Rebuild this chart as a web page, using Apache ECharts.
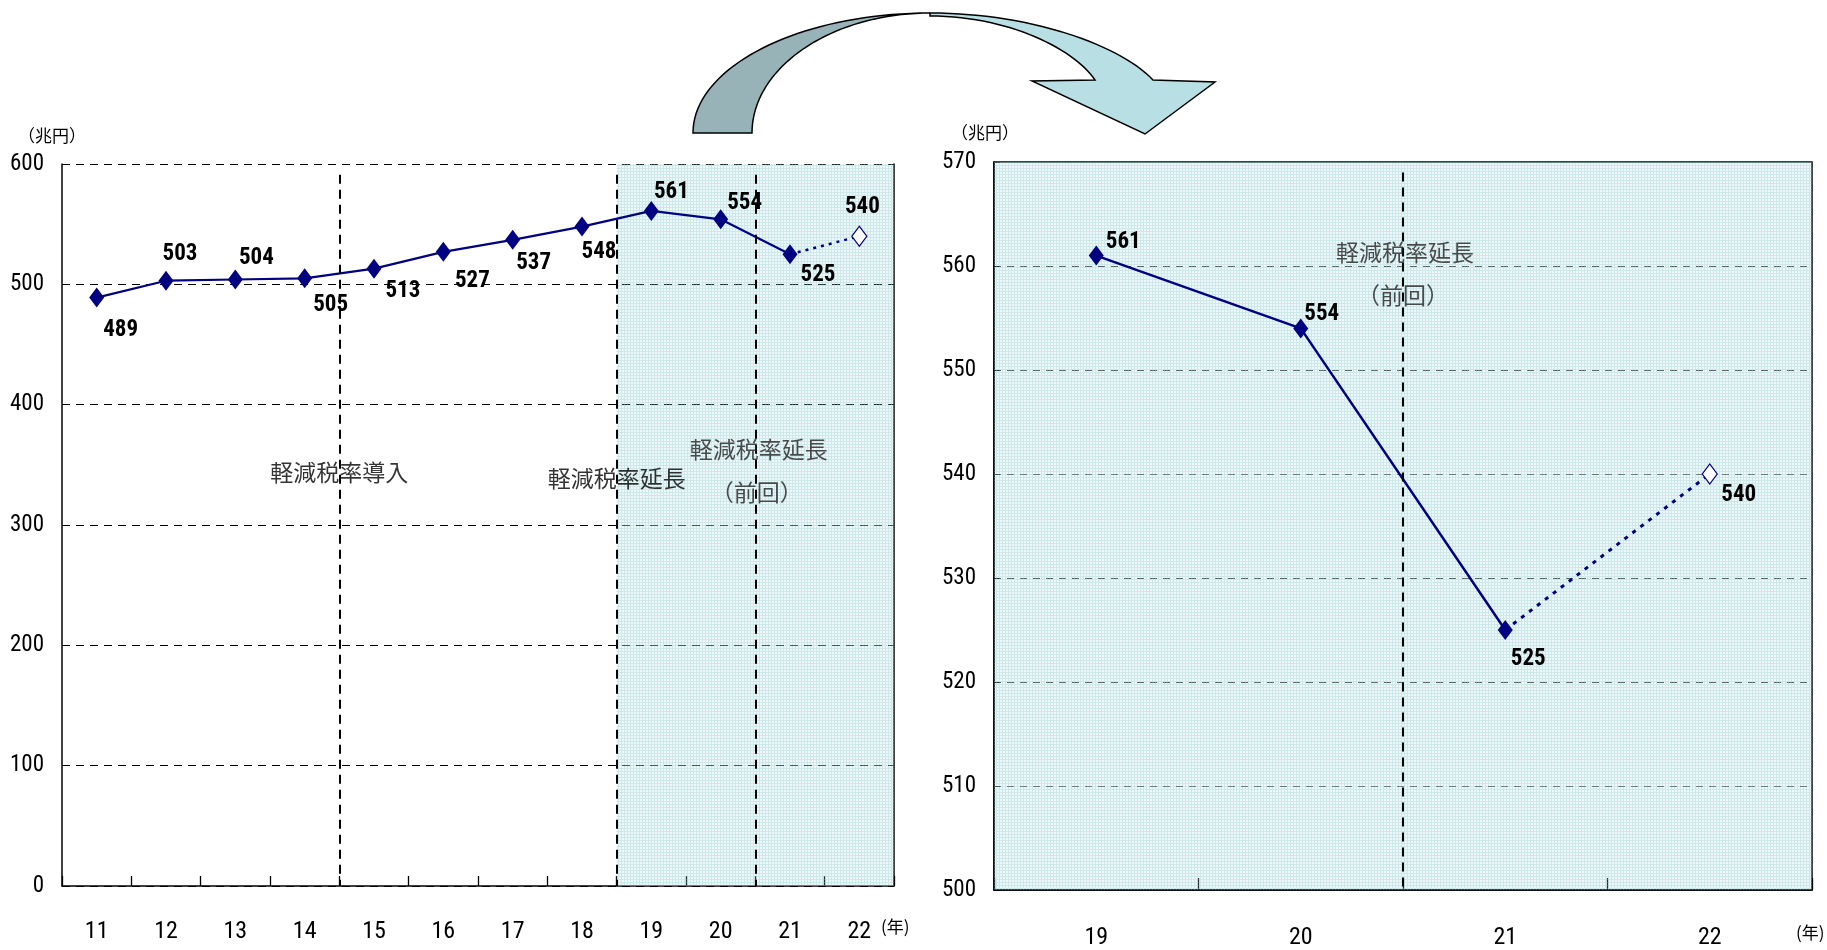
<!DOCTYPE html>
<html><head><meta charset="utf-8">
<script src="https://cdn.jsdelivr.net/npm/echarts@6.0.0/dist/echarts.min.js"></script>
<style>html,body{margin:0;padding:0;background:#fff}#c{width:1827px;height:950px}</style>
</head><body><div id="c"></div>
<script>
// ---- data ----
const years = ['11','12','13','14','15','16','17','18','19','20','21','22'];
const values = [489, 503, 504, 505, 513, 527, 537, 548, 561, 554, 525, 540];
const lastActualIndex = 10;              // 21 is last solid point; 22 is projection (dashed)
const zoomYears = ['19','20','21','22'];
const zoomValues = [561, 554, 525, 540];
const zoomLastActualIndex = 2;
const leftYTicks = {min: 0, max: 600, interval: 100};
const rightYTicks = {min: 500, max: 570, interval: 10};
const leftMarkers = [3.5, 7.5, 9.5];     // boundaries between categories (index space)
const rightMarkers = [1.5];
const leftAnnotations = [
  {text: '軽減税率導入', x: 3.5, y: 344, dark: false},
  {text: '軽減税率延長', x: 7.5, y: 339, dark: false},
  {text: '軽減税率延長', x: 9.55, y: 363, dark: true},
  {text: '（前回）', x: 9.52, y: 327, dark: true}
];
const rightAnnotations = [
  {text: '軽減税率延長', x: 1.51, y: 561.3},
  {text: '（前回）', x: 1.5, y: 557.2}
];
const unitText = '（兆円）';
const yearText = '(年)';

// ---- styles (label offsets, fonts) ----
const leftOffsets = [[24,33],[14,-26],[21,-21],[26,27],[29,23],[29,29],[21,23],[17,26],[20,-19],[24,-16],[28,21],[3,-29]];
const rightOffsets = [[27,-13],[21,-14],[23,29],[29,21]];
const NUM_FONT = "'Liberation Sans Narrow','Roboto Condensed','DejaVu Sans Condensed','Liberation Sans',sans-serif";
const JP_FONT = "'Noto Sans CJK JP','Noto Sans',sans-serif";
const NAVY = '#000080';

function makePattern() {
  const c = document.createElement('canvas'); c.width = 3; c.height = 3;
  const g = c.getContext('2d');
  g.fillStyle = 'rgba(175,220,224,0.2)'; g.fillRect(0,0,3,3);
  g.fillStyle = 'rgba(135,198,204,0.32)'; g.fillRect(0,0,3,1); g.fillRect(0,1,1,2);
  return c;
}
const pattern = {image: makePattern(), repeat: 'repeat'};

// sample a cubic bezier into points (decorative arrow)
function bez(p0, p1, p2, p3, n) {
  const pts = [];
  for (let i = 0; i <= n; i++) {
    const t = i / n, u = 1 - t;
    pts.push([
      u*u*u*p0[0] + 3*u*u*t*p1[0] + 3*u*t*t*p2[0] + t*t*t*p3[0],
      u*u*u*p0[1] + 3*u*u*t*p1[1] + 3*u*t*t*p2[1] + t*t*t*p3[1]
    ]);
  }
  return pts;
}
const rightBand = [].concat(
  bez([930,13],[1030,13],[1120,45],[1153,80],30),
  [[1215,82],[1145,134],[1032,81],[1095,80]],
  bez([1095,80],[1075,50],[1010,16],[930,16],30)
);
const leftBand = [].concat(
  bez([693,133],[693,67],[799,13],[930,13],40),
  bez([930,13],[832,13],[752,67],[752,133],40)
);

function labelCfg(off) {
  return {show: true, position: 'inside', offset: off, formatter: '{c}',
    fontFamily: NUM_FONT, fontSize: 23, fontWeight: 'bold condensed', color: '#000'};
}

const leftSolid = values.map((v, i) => i <= lastActualIndex ? {value: v, label: labelCfg(leftOffsets[i])} : null);
const leftDash = values.map((v, i) => {
  if (i < lastActualIndex) return null;
  if (i === lastActualIndex) return {value: v, symbol: 'none'};
  return {value: v, label: labelCfg(leftOffsets[i]), itemStyle: {color: '#fff', borderColor: NAVY, borderWidth: 1.2}};
});
const rightSolid = zoomValues.map((v, i) => i <= zoomLastActualIndex ? {value: v, label: labelCfg(rightOffsets[i])} : null);
const rightDash = zoomValues.map((v, i) => {
  if (i < zoomLastActualIndex) return null;
  if (i === zoomLastActualIndex) return {value: v, symbol: 'none'};
  return {value: v, label: labelCfg(rightOffsets[i]), itemStyle: {color: '#fff', borderColor: NAVY, borderWidth: 1.2}};
});

const chart = echarts.init(document.getElementById('c'));
const hiddenVal = (grid, max) => ({type: 'value', gridIndex: grid, min: -0.5, max: max, show: false,
  axisLine: {show: false, onZero: false}, splitLine: {show: false}});
const numLabel = (margin, size) => ({margin: margin, fontFamily: NUM_FONT, fontSize: size, fontWeight: 'condensed', color: '#000'});

const option = {
  animation: false,
  backgroundColor: '#fff',
  grid: [
    {left: 62, top: 164, width: 832, height: 722},
    {left: 994, top: 162, width: 818, height: 728, show: true, borderColor: '#000', borderWidth: 1.5, backgroundColor: 'transparent'}
  ],
  xAxis: [
    {type: 'category', gridIndex: 0, data: years, boundaryGap: true,
      axisLine: {onZero: false, lineStyle: {color: '#000', width: 1.5}},
      axisTick: {show: true, inside: true, length: 10, lineStyle: {color: '#000', width: 1.3}},
      axisLabel: numLabel(34, 24)},
    hiddenVal(0, years.length - 0.5),
    {type: 'category', gridIndex: 1, data: zoomYears, boundaryGap: true,
      axisLine: {onZero: false, lineStyle: {color: '#000', width: 1.5}},
      axisTick: {show: true, inside: true, length: 12, lineStyle: {color: '#000', width: 1.3}},
      axisLabel: numLabel(36, 24)},
    hiddenVal(1, zoomYears.length - 0.5)
  ],
  yAxis: [
    {type: 'value', gridIndex: 0, min: leftYTicks.min, max: leftYTicks.max, interval: leftYTicks.interval,
      axisLine: {show: true, onZero: false, lineStyle: {color: '#000', width: 1.5}}, axisTick: {show: false},
      axisLabel: numLabel(18, 23),
      splitLine: {show: true, lineStyle: {color: '#000', type: [8, 6], width: 1}}},
    {type: 'value', gridIndex: 0, position: 'right', min: leftYTicks.min, max: leftYTicks.max,
      axisLine: {show: true, onZero: false, lineStyle: {color: '#000', width: 1.5}}, axisTick: {show: false},
      axisLabel: {show: false}, splitLine: {show: false}},
    {type: 'value', gridIndex: 1, min: rightYTicks.min, max: rightYTicks.max, interval: rightYTicks.interval,
      axisLine: {show: true, onZero: false, lineStyle: {color: '#000', width: 1.5}},
      axisTick: {inside: true, length: 6, lineStyle: {color: '#000'}},
      axisLabel: numLabel(18, 23),
      splitLine: {show: true, lineStyle: {color: '#444', type: [7, 6], width: 1}}}
  ],
  series: [
    {type: 'line', xAxisIndex: 0, yAxisIndex: 0, z: 3, data: leftSolid, symbol: 'diamond', symbolSize: [15, 20],
      itemStyle: {color: NAVY}, lineStyle: {color: NAVY, width: 2.2}},
    {type: 'line', xAxisIndex: 0, yAxisIndex: 0, z: 3, data: leftDash, symbol: 'diamond', symbolSize: [15, 20],
      itemStyle: {color: NAVY}, lineStyle: {color: NAVY, width: 2.5, type: [3, 5]}},
    {type: 'line', xAxisIndex: 2, yAxisIndex: 2, z: 3, data: rightSolid, symbol: 'diamond', symbolSize: [15, 20],
      itemStyle: {color: NAVY}, lineStyle: {color: NAVY, width: 2.5}},
    {type: 'line', xAxisIndex: 2, yAxisIndex: 2, z: 3, data: rightDash, symbol: 'diamond', symbolSize: [15, 20],
      itemStyle: {color: NAVY}, lineStyle: {color: NAVY, width: 3, type: [4, 6]}},
    {type: 'scatter', xAxisIndex: 1, yAxisIndex: 0, z: 10, silent: true, data: [], symbolSize: 0,
      markArea: {silent: true, itemStyle: {color: pattern},
        data: [[{coord: [7.5, leftYTicks.min]}, {coord: [years.length - 0.5, leftYTicks.max]}]]}},
    {type: 'scatter', xAxisIndex: 3, yAxisIndex: 2, z: 10, silent: true, data: [], symbolSize: 0,
      markArea: {silent: true, itemStyle: {color: pattern},
        data: [[{coord: [-0.5, rightYTicks.min]}, {coord: [zoomYears.length - 0.5, rightYTicks.max]}]]}},
    {type: 'scatter', xAxisIndex: 1, yAxisIndex: 0, z: 12, silent: true, symbolSize: 1,
      itemStyle: {color: 'rgba(0,0,0,0)'},
      data: leftAnnotations.map(a => ({value: [a.x, a.y], name: a.text,
        label: {show: true, position: 'inside', formatter: '{b}', fontFamily: JP_FONT, fontSize: 23, color: a.dark ? '#222' : '#000'}})),
      markLine: {silent: true, symbol: ['none', 'none'], label: {show: false},
        lineStyle: {color: '#000', type: [9, 6], width: 2},
        data: leftMarkers.map(m => [{coord: [m, 591]}, {coord: [m, leftYTicks.min]}])}},
    {type: 'scatter', xAxisIndex: 3, yAxisIndex: 2, z: 12, silent: true, symbolSize: 1,
      itemStyle: {color: 'rgba(0,0,0,0)'},
      data: rightAnnotations.map(a => ({value: [a.x, a.y], name: a.text,
        label: {show: true, position: 'inside', formatter: '{b}', fontFamily: JP_FONT, fontSize: 23, color: '#222'}})),
      markLine: {silent: true, symbol: ['none', 'none'], label: {show: false},
        lineStyle: {color: '#000', type: [9, 6], width: 2},
        data: rightMarkers.map(m => [{coord: [m, 569]}, {coord: [m, rightYTicks.min]}])}}
  ],
  graphic: [
    {type: 'polygon', z: 20, shape: {points: rightBand}, style: {fill: '#b8dfe3', stroke: '#000', lineWidth: 1.5}},
    {type: 'polygon', z: 21, shape: {points: leftBand}, style: {fill: '#97b3b8', stroke: '#000', lineWidth: 1.5}},
    {type: 'text', z: 20, left: 18, top: 127, style: {text: unitText, fontFamily: JP_FONT, fontSize: 17, fill: '#000'}},
    {type: 'text', z: 20, left: 951, top: 124, style: {text: unitText, fontFamily: JP_FONT, fontSize: 17, fill: '#000'}},
    {type: 'text', z: 20, left: 881, top: 918, style: {text: yearText, fontFamily: JP_FONT, fontSize: 17, fill: '#000'}},
    {type: 'text', z: 20, left: 1796, top: 924, style: {text: yearText, fontFamily: JP_FONT, fontSize: 17, fill: '#000'}}
  ]
};
chart.setOption(option);
</script>
</body></html>
